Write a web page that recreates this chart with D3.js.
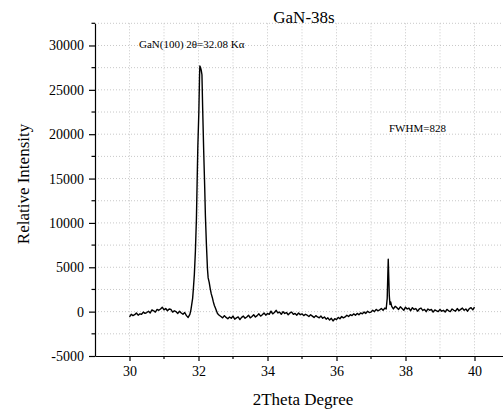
<!DOCTYPE html>
<html>
<head>
<meta charset="utf-8">
<script src="https://cdnjs.cloudflare.com/ajax/libs/d3/7.8.5/d3.min.js"></script>
<style>
  body { margin: 0; background: #fff; }
  svg { display: block; }
  svg text { font-family: "Liberation Serif", "Times New Roman", serif !important; }
  .grid line { stroke: #c8c8c8; stroke-width: 1; stroke-dasharray: 1,2; }
  .axis path, .axis line { stroke: #000; stroke-width: 1.2; }
</style>
</head>
<body>
<div id="chart"></div>
<script>
const serif = '"Liberation Serif", "Times New Roman", serif';

// scan: 2θ (deg) and intensity (counts, background-subtracted)
const twoTheta = [
  30.00, 30.05, 30.10, 30.15, 30.20, 30.25, 30.30, 30.35, 30.40, 30.45,
  30.50, 30.55, 30.60, 30.65, 30.70, 30.75, 30.80, 30.85, 30.90, 30.95,
  31.00, 31.05, 31.10, 31.15, 31.20, 31.25, 31.30, 31.35, 31.40, 31.45,
  31.50, 31.55, 31.60, 31.65, 31.70, 31.75,
  31.78, 31.80, 31.83, 31.85, 31.88, 31.91, 31.94, 31.96, 31.98, 32.01,
  32.03, 32.04, 32.06, 32.08, 32.10, 32.12, 32.15, 32.18, 32.20, 32.23,
  32.26, 32.28, 32.31, 32.34, 32.37, 32.40, 32.43, 32.46, 32.49, 32.52,
  32.55, 32.60,
  32.65, 32.70, 32.75, 32.80, 32.85, 32.90, 32.95, 33.00, 33.05, 33.10,
  33.15, 33.20, 33.25, 33.30, 33.35, 33.40, 33.45, 33.50, 33.55, 33.60,
  33.65, 33.70, 33.75, 33.80, 33.85, 33.90, 33.95, 34.00, 34.05, 34.10,
  34.15, 34.20, 34.25, 34.30, 34.35, 34.40, 34.45, 34.50, 34.55, 34.60,
  34.65, 34.70, 34.75, 34.80, 34.85, 34.90, 34.95, 35.00, 35.05, 35.10,
  35.15, 35.20, 35.25, 35.30, 35.35, 35.40, 35.45, 35.50, 35.55, 35.60,
  35.65, 35.70, 35.75, 35.80, 35.85, 35.90, 35.95, 36.00, 36.05, 36.10,
  36.15, 36.20, 36.25, 36.30, 36.35, 36.40, 36.45, 36.50, 36.55, 36.60,
  36.65, 36.70, 36.75, 36.80, 36.85, 36.90, 36.95, 37.00, 37.05, 37.10,
  37.15, 37.20, 37.25, 37.30, 37.35, 37.40,
  37.44, 37.47, 37.49, 37.50, 37.51, 37.53, 37.55, 37.57, 37.60,
  37.65, 37.70, 37.75, 37.80, 37.85, 37.90, 37.95, 38.00, 38.05, 38.10,
  38.15, 38.20, 38.25, 38.30, 38.35, 38.40, 38.45, 38.50, 38.55, 38.60,
  38.65, 38.70, 38.75, 38.80, 38.85, 38.90, 38.95, 39.00, 39.05, 39.10,
  39.15, 39.20, 39.25, 39.30, 39.35, 39.40, 39.45, 39.50, 39.55, 39.60,
  39.65, 39.70, 39.75, 39.80, 39.85, 39.90, 39.95, 40.00
];
const intensity = [
  -600, -300, -450, -350, -150, -400, -250, -300, -50, -200,
  -100, 50, -150, 200, 100, -50, 250, 150, 300, 500,
  200, 350, 100, 300, 250, -50, 100, 0, -200, 50,
  -150, -300, -100, -450, -650, -300,
  200, 700, 1500, 2500, 4200, 6800, 10500, 14500, 18500, 22500,
  26500, 27700, 27500, 27200, 26700, 23000, 18200, 14000, 10800, 7500,
  4800, 3800, 3300, 2600, 2000, 1600, 1100, 700, 400, 100,
  -200, -400,
  -550, -700, -450, -650, -800, -600, -750, -500, -850, -700,
  -600, -900, -650, -500, -750, -600, -400, -700, -550, -350,
  -600, -450, -250, -500, -350, -150, -400, -200, -300, 50,
  -250, -100, 150, -150, -50, -300, 0, -200, -100, -350,
  -150, -50, -300, -200, -400, -150, -350, -250, -450, -300,
  -400, -550, -350, -500, -650, -450, -600, -700, -500, -750,
  -600, -850, -700, -950, -750, -1050, -800, -900, -650, -800,
  -550, -700, -600, -400, -550, -350, -450, -250, -400, -200,
  -350, -150, -250, -50, -200, 50, -100, -50, 150, 0,
  250, 100, 200, 350, 150, 400,
  300, 1500, 4500, 5900, 4500, 1800, 800, 1100, 600,
  300, 600, 450, 250, 550, 350, 150, 500, 300, 400,
  100, 450, 250, 350, 50, 300, 400, 150, 250, 0,
  300, 150, 250, -50, 200, 100, 0, 250, 50, 150,
  -50, 250, 100, 0, 300, 150, 50, 350, 100, 250,
  400, 150, 300, 50, 350, 450, 200, 500
];
const xTicks = [30, 32, 34, 36, 38, 40];
const yTicks = [-5000, 0, 5000, 10000, 15000, 20000, 25000, 30000];

const width = 503, height = 409;
const svg = d3.select('#chart').append('svg')
  .attr('width', width)
  .attr('height', height)
  .attr('font-family', serif);

const x = d3.scaleLinear().domain([29, 41]).range([95, 509]);
const y = d3.scaleLinear().domain([-5000, 32500]).range([356, 23.3]);

// grid
const grid = svg.append('g').attr('class', 'grid');
grid.selectAll('line.v').data(d3.range(30, 41, 1))
  .enter().append('line')
  .attr('class', 'v')
  .attr('x1', d => x(d)).attr('x2', d => x(d))
  .attr('y1', y.range()[1]).attr('y2', y.range()[0]);
grid.selectAll('line.h').data(d3.range(-2500, 32501, 2500))
  .enter().append('line')
  .attr('class', 'h')
  .attr('x1', x.range()[0]).attr('x2', x.range()[1])
  .attr('y1', d => y(d)).attr('y2', d => y(d));

// data line
const points = twoTheta.map((t, i) => [t, intensity[i]]);
const line = d3.line()
  .x(d => x(d[0]))
  .y(d => y(d[1]));
svg.append('path')
  .datum(points)
  .attr('d', line)
  .attr('fill', 'none')
  .attr('stroke', '#000')
  .attr('stroke-width', 1.4)
  .attr('stroke-linejoin', 'round');

// axes
const xAxis = d3.axisBottom(x)
  .tickValues(xTicks)
  .tickFormat(d => String(d))
  .tickSizeInner(5)
  .tickSizeOuter(0)
  .tickPadding(5);
const gx = svg.append('g')
  .attr('class', 'axis x')
  .attr('transform', `translate(0,${y.range()[0]})`)
  .call(xAxis)
  .attr('font-family', serif)
  .attr('font-size', 14);
gx.selectAll('text').attr('fill', '#000').style('font-family', serif);
gx.selectAll('.minor').data(d3.range(31, 41, 2))
  .enter().append('line')
  .attr('class', 'minor')
  .attr('x1', d => x(d)).attr('x2', d => x(d))
  .attr('y1', 0).attr('y2', 3)
  .attr('stroke', '#000').attr('stroke-width', 1.2);

const yAxis = d3.axisLeft(y)
  .tickValues(yTicks)
  .tickFormat(d => String(d))
  .tickSizeInner(6)
  .tickSizeOuter(0)
  .tickPadding(5);
const gy = svg.append('g')
  .attr('class', 'axis y')
  .attr('transform', `translate(${x.range()[0]},0)`)
  .call(yAxis)
  .attr('font-family', serif)
  .attr('font-size', 14);
gy.selectAll('text').attr('fill', '#000').style('font-family', serif);
gy.selectAll('.minor').data(d3.range(-2500, 32501, 5000))
  .enter().append('line')
  .attr('class', 'minor')
  .attr('x1', 0).attr('x2', -3.5)
  .attr('y1', d => y(d)).attr('y2', d => y(d))
  .attr('stroke', '#000').attr('stroke-width', 1.2);

// labels
svg.append('text')
  .attr('x', 304).attr('y', 23)
  .attr('text-anchor', 'middle')
  .attr('font-size', 17)
  .text('GaN-38s');

svg.append('text')
  .attr('x', 303).attr('y', 405)
  .attr('text-anchor', 'middle')
  .attr('font-size', 17)
  .text('2Theta Degree');

svg.append('text')
  .attr('transform', 'translate(29,184) rotate(-90)')
  .attr('text-anchor', 'middle')
  .attr('font-size', 17)
  .text('Relative Intensity');

svg.append('text')
  .attr('x', 139).attr('y', 48)
  .attr('font-size', 11)
  .text('GaN(100) 2θ=32.08 Kα');

svg.append('text')
  .attr('x', 389).attr('y', 132)
  .attr('font-size', 11)
  .text('FWHM=828');
</script>
</body>
</html>
